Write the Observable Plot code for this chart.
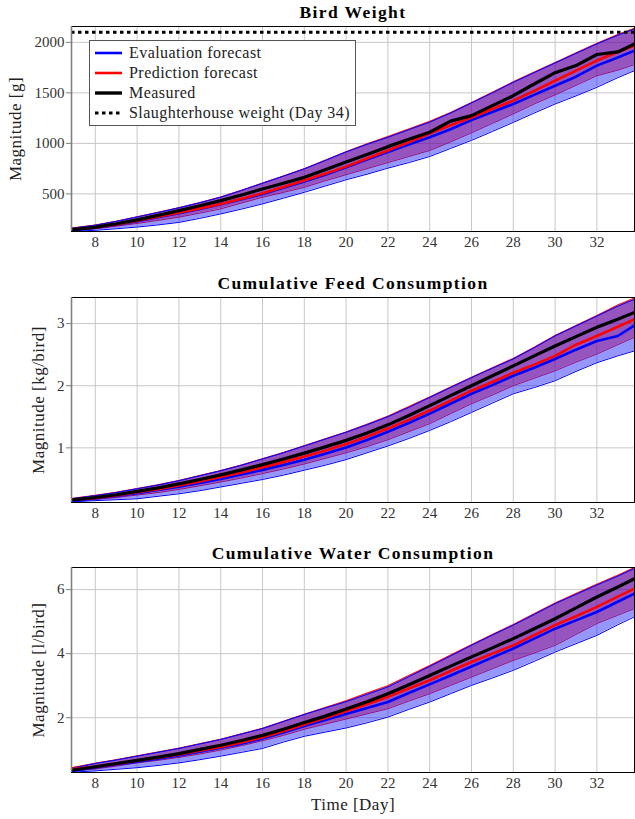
<!DOCTYPE html>
<html><head><meta charset="utf-8">
<script src="https://cdn.jsdelivr.net/npm/d3@7"></script>
<script src="https://cdn.jsdelivr.net/npm/@observablehq/plot@0.6"></script>
<style>
body{margin:0;background:#fff;}
#root{position:relative;width:635px;height:819px;overflow:hidden;font-family:"Liberation Serif",serif;}
#root svg, #root svg text{font-family:"Liberation Serif",serif !important;}
.legend{position:absolute;left:89px;top:40px;width:267px;height:86px;border:1px solid #555;background:#fff;box-sizing:border-box;}
.row{position:absolute;left:0;height:20px;display:flex;align-items:center;font-size:16px;letter-spacing:0.45px;color:#222;white-space:nowrap;}
.row svg{margin-left:5px;margin-right:7px;}
</style></head>
<body><div id="root"></div>
<script>
// ---------- data ----------
const days = [6.86, 8, 9, 10, 11, 12, 13, 14, 15, 16, 17, 18, 19, 20, 21, 22, 23, 24, 25, 26, 27, 28, 29, 30, 31, 32, 33, 33.8];
const xTicks = [8, 10, 12, 14, 16, 18, 20, 22, 24, 26, 28, 30, 32];

// Bird weight [g]
const weightMeasured = [145,172,205,243,288,335,383,434,490,549,605,664,740,815,890,968,1040,1110,1220,1275,1374,1472,1588,1700,1770,1880,1905,1984];
const weightPred     = [150,168,198,235,275,315,357,401,452,506,568,632,700,770,850,930,1010,1097,1180,1255,1340,1423,1520,1620,1720,1820,1905,1967];
const weightEval     = [140,165,195,230,270,310,352,398,448,500,560,622,690,763,840,915,990,1060,1140,1230,1310,1390,1480,1570,1660,1770,1850,1918];
const weightEvalHi   = [160,190,228,272,315,362,412,467,535,605,675,747,830,915,990,1060,1135,1210,1300,1400,1500,1604,1700,1795,1890,1984,2070,2132];
const weightPredHi   = [162,192,230,273,318,364,414,470,536,607,678,750,834,918,996,1068,1143,1218,1306,1405,1506,1610,1706,1800,1896,1990,2078,2140];
const weightPredLo   = [135,155,180,208,238,270,310,352,410,467,515,565,630,690,750,810,870,930,1015,1105,1198,1292,1390,1480,1575,1670,1725,1780];
const weightEvalLo   = [130,140,155,172,193,218,258,302,350,401,458,516,578,640,695,755,810,870,950,1030,1118,1208,1300,1390,1470,1555,1650,1720];
const slaughterWeight = [2100];
const weightTicks = [500, 1000, 1500, 2000];

// Cumulative feed [kg/bird]
const feedMeasured = [0.16,0.20,0.245,0.30,0.355,0.42,0.49,0.565,0.645,0.73,0.82,0.915,1.015,1.12,1.24,1.37,1.52,1.68,1.84,2.00,2.16,2.32,2.48,2.64,2.79,2.94,3.07,3.18];
const feedPred     = [0.165,0.195,0.235,0.285,0.335,0.395,0.46,0.53,0.605,0.685,0.77,0.86,0.955,1.06,1.18,1.31,1.45,1.60,1.76,1.92,2.06,2.21,2.34,2.48,2.66,2.80,2.95,3.07];
const feedEval     = [0.15,0.185,0.225,0.27,0.32,0.375,0.435,0.50,0.57,0.645,0.725,0.81,0.905,1.005,1.125,1.26,1.40,1.55,1.71,1.87,2.01,2.16,2.29,2.43,2.58,2.72,2.80,2.97];
const feedEvalHi   = [0.18,0.23,0.28,0.34,0.40,0.47,0.55,0.63,0.72,0.82,0.92,1.03,1.14,1.25,1.37,1.50,1.65,1.81,1.97,2.13,2.28,2.43,2.61,2.80,2.96,3.12,3.28,3.39];
const feedPredHi   = [0.185,0.235,0.285,0.345,0.405,0.475,0.555,0.635,0.725,0.825,0.925,1.035,1.145,1.255,1.38,1.51,1.665,1.82,1.98,2.135,2.29,2.44,2.62,2.81,2.97,3.13,3.30,3.41];
const feedPredLo   = [0.14,0.17,0.20,0.24,0.28,0.33,0.39,0.45,0.515,0.585,0.66,0.74,0.83,0.92,1.02,1.13,1.26,1.39,1.55,1.71,1.85,2.00,2.12,2.24,2.38,2.51,2.66,2.78];
const feedEvalLo   = [0.13,0.15,0.165,0.18,0.22,0.26,0.31,0.37,0.43,0.49,0.56,0.64,0.72,0.81,0.92,1.03,1.15,1.28,1.42,1.57,1.72,1.87,1.97,2.08,2.23,2.37,2.48,2.56];
const feedTicks = [1, 2, 3];

// Cumulative water [l/bird]
const waterMeasured = [0.36,0.47,0.57,0.67,0.77,0.88,1.01,1.14,1.29,1.45,1.64,1.85,2.05,2.27,2.50,2.75,3.03,3.32,3.61,3.90,4.18,4.47,4.78,5.09,5.43,5.77,6.08,6.34];
const waterPred     = [0.40,0.47,0.56,0.66,0.75,0.85,0.97,1.09,1.23,1.39,1.58,1.79,1.99,2.20,2.42,2.65,2.91,3.17,3.46,3.74,4.00,4.26,4.58,4.89,5.17,5.46,5.78,6.03];
const waterEval     = [0.34,0.45,0.54,0.63,0.72,0.82,0.94,1.06,1.19,1.35,1.54,1.74,1.93,2.12,2.30,2.49,2.77,3.04,3.32,3.60,3.88,4.16,4.47,4.78,5.04,5.30,5.62,5.875];
const waterEvalHi   = [0.42,0.57,0.68,0.80,0.92,1.04,1.18,1.32,1.49,1.66,1.88,2.10,2.30,2.50,2.73,2.96,3.28,3.60,3.93,4.26,4.58,4.89,5.22,5.56,5.85,6.14,6.42,6.66];
const waterPredHi   = [0.44,0.58,0.69,0.81,0.93,1.05,1.19,1.33,1.50,1.67,1.89,2.11,2.32,2.53,2.77,3.00,3.32,3.63,3.96,4.28,4.60,4.91,5.25,5.58,5.88,6.17,6.45,6.69];
const waterPredLo   = [0.33,0.40,0.49,0.59,0.67,0.76,0.87,0.99,1.13,1.28,1.45,1.64,1.80,1.96,2.12,2.28,2.52,2.75,3.01,3.27,3.53,3.79,4.02,4.26,4.60,4.94,5.20,5.41];
const waterEvalLo   = [0.30,0.34,0.39,0.44,0.51,0.59,0.69,0.80,0.92,1.04,1.24,1.42,1.55,1.68,1.84,2.02,2.26,2.49,2.75,3.01,3.24,3.48,3.76,4.05,4.31,4.57,4.90,5.15];
const waterTicks = [2, 4, 6];

const xDomain = [6.86, 33.8];

// ---------- helpers ----------
function rowsOf(m, p, e, eh, el, ph, pl) {
  return days.map((d, i) => ({day: d, measured: m[i], pred: p[i], evalv: e[i], evalHi: eh[i], evalLo: el[i], predHi: ph[i], predLo: pl[i]}));
}
const FONT = "Liberation Serif";
const TICKCOL = "#333";

function panel(opt) {
  const rows = opt.rows;
  const marks = [
    Plot.gridX(xTicks, {stroke: "#c8c8c8", strokeOpacity: 1, strokeWidth: 1}),
    Plot.gridY(opt.yTicks, {stroke: "#c8c8c8", strokeOpacity: 1, strokeWidth: 1}),
    Plot.areaY(rows, {x: "day", y1: "predLo", y2: "predHi", fill: "#ff0000", fillOpacity: 0.43, clip: true}),
    Plot.line(rows, {x: "day", y: "predLo", stroke: "#ff0000", strokeWidth: 0.9, clip: true}),
    Plot.line(rows, {x: "day", y: "predHi", stroke: "#ff0000", strokeWidth: 0.9, clip: true}),
    Plot.areaY(rows, {x: "day", y1: "evalLo", y2: "evalHi", fill: "#0000ff", fillOpacity: 0.41, clip: true}),
    Plot.line(rows, {x: "day", y: "evalLo", stroke: "#0000ff", strokeWidth: 1, clip: true}),
    Plot.line(rows, {x: "day", y: "evalHi", stroke: "#0000ff", strokeWidth: 1, clip: true}),
    Plot.line(rows, {x: "day", y: "evalv", stroke: "#0000ff", strokeWidth: 2.6, clip: true}),
    Plot.line(rows, {x: "day", y: "pred", stroke: "#ff0000", strokeWidth: 2.6, clip: true}),
    Plot.line(rows, {x: "day", y: "measured", stroke: "#000", strokeWidth: 3.2, clip: true}),
    ...(opt.extra || []),
    Plot.frame({stroke: "#000", strokeWidth: 1}),
    Plot.ruleX([xDomain[0]], {stroke: "#808080", strokeWidth: 1.6}),
    Plot.axisX(xTicks, {tickSize: 0, tickPadding: 5, label: null, fontSize: 15, fill: TICKCOL, fontFamily: FONT}),
    Plot.axisY(opt.yTicks, {tickSize: 5, tickPadding: 2, label: null, fontSize: 15, fill: TICKCOL, stroke: "#808080", fontFamily: FONT, tickFormat: d => String(d)}),
    Plot.text([opt.title], {text: d => d, frameAnchor: "top", lineAnchor: "middle", textAnchor: "middle", dy: -14, fontSize: 17.5, fontWeight: "bold", fill: "#000", fontFamily: FONT}),
    Plot.text([opt.ylabel], {text: d => d, frameAnchor: "left", lineAnchor: "middle", textAnchor: "middle", rotate: -90, dx: opt.labelDx, fontSize: 17, fill: "#222", fontFamily: FONT}),
    ...(opt.xlabel ? [Plot.text([opt.xlabel], {text: d => d, frameAnchor: "bottom", lineAnchor: "middle", textAnchor: "middle", dy: 32, fontSize: 17, fill: "#222", fontFamily: FONT})] : [])
  ];
  const svg = Plot.plot({
    width: 635, height: opt.height,
    marginLeft: 71, marginRight: 1, marginTop: opt.marginTop, marginBottom: opt.marginBottom,
    x: {domain: xDomain},
    y: {domain: opt.yDomain},
    style: {fontFamily: FONT, fontSize: "15px", background: "transparent", overflow: "visible"},
    marks
  });
  svg.style.position = "absolute";
  svg.style.left = "0px";
  svg.style.top = opt.top + "px";
  svg.querySelectorAll("text").forEach(t => {
    if (t.closest("[font-weight='bold']")) t.style.letterSpacing = "1.4px";
    else if (t.textContent.length > 5) t.style.letterSpacing = "0.5px";
  });
  document.getElementById("root").appendChild(svg);
}

panel({
  top: 0, height: 270, marginTop: 26, marginBottom: 39,
  rows: rowsOf(weightMeasured, weightPred, weightEval, weightEvalHi, weightEvalLo, weightPredHi, weightPredLo),
  yDomain: [128, 2157], yTicks: weightTicks,
  title: "Bird Weight", ylabel: "Magnitude [g]", labelDx: -56,
  extra: [Plot.ruleY(slaughterWeight, {stroke: "#000", strokeWidth: 3, strokeDasharray: "3.5,3.5"})]
});
panel({
  top: 270, height: 270, marginTop: 27, marginBottom: 38,
  rows: rowsOf(feedMeasured, feedPred, feedEval, feedEvalHi, feedEvalLo, feedPredHi, feedPredLo),
  yDomain: [0.12, 3.42], yTicks: feedTicks,
  title: "Cumulative Feed Consumption", ylabel: "Magnitude [kg/bird]", labelDx: -33
});
panel({
  top: 540, height: 279, marginTop: 27, marginBottom: 47,
  rows: rowsOf(waterMeasured, waterPred, waterEval, waterEvalHi, waterEvalLo, waterPredHi, waterPredLo),
  yDomain: [0.29, 6.69], yTicks: waterTicks,
  title: "Cumulative Water Consumption", ylabel: "Magnitude [l/bird]", labelDx: -33,
  xlabel: "Time [Day]"
});

// ---------- legend ----------
const legendItems = [
  {label: "Evaluation forecast", color: "#0000ff", width: 2.6, dash: null},
  {label: "Prediction forecast", color: "#ff0000", width: 2.6, dash: null},
  {label: "Measured", color: "#000", width: 3.4, dash: null},
  {label: "Slaughterhouse weight (Day 34)", color: "#000", width: 3, dash: "3.5,3.5"}
];
const legend = document.createElement("div");
legend.className = "legend";
legendItems.forEach((it, i) => {
  const row = document.createElement("div");
  row.className = "row";
  row.style.top = (2 + i * 20) + "px";
  row.innerHTML = `<svg width="27" height="8"><line x1="0" x2="27" y1="4" y2="4" stroke="${it.color}" stroke-width="${it.width}" ${it.dash ? `stroke-dasharray="${it.dash}"` : ""}/></svg><span>${it.label}</span>`;
  legend.appendChild(row);
});
document.getElementById("root").appendChild(legend);
</script>
</body></html>
